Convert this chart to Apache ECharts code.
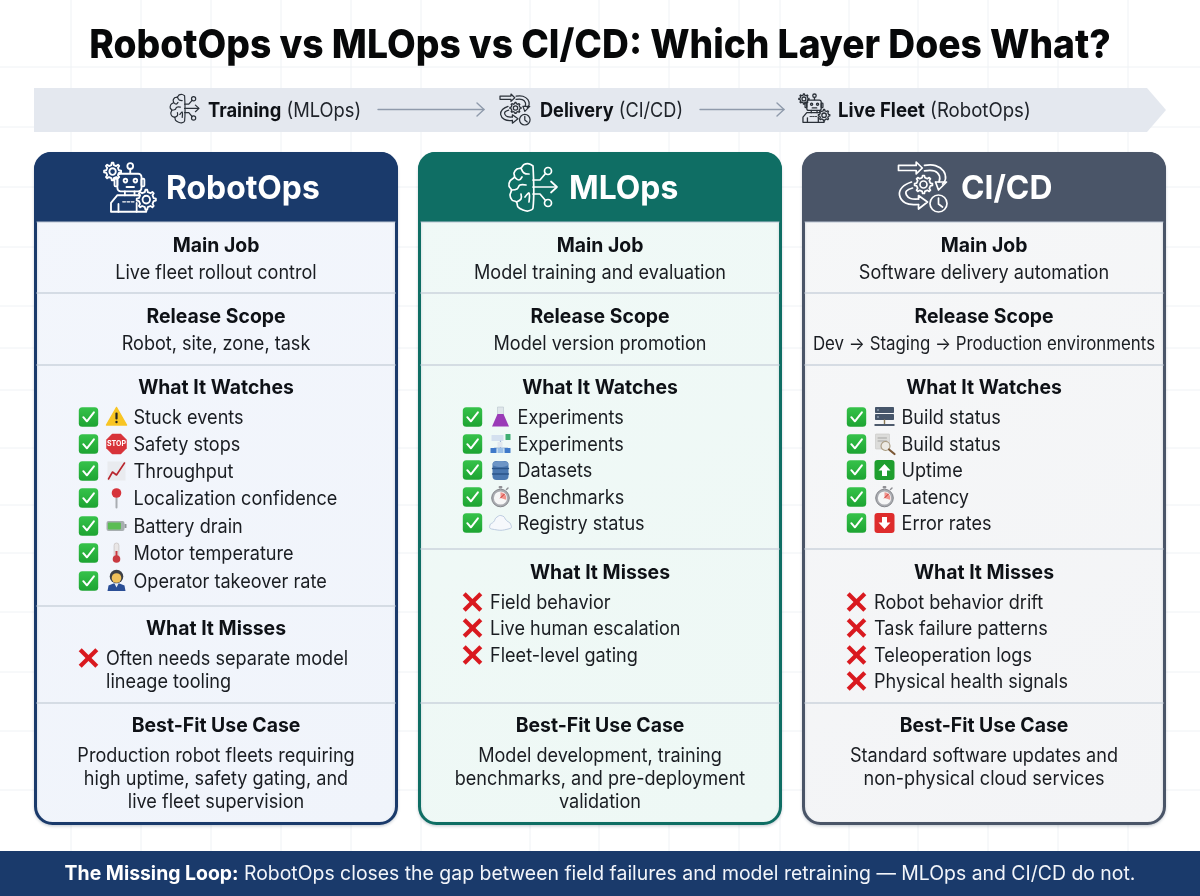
<!DOCTYPE html>
<html><head><meta charset="utf-8">
<style>html,body{margin:0;padding:0;background:#fff}#c{width:1200px;height:896px}</style>
<script src="https://cdn.jsdelivr.net/npm/echarts@6/dist/echarts.min.js"></script>
</head><body><div id="c"></div>
<script>
// ---------- content ----------
const chartTitle = 'RobotOps vs MLOps vs CI/CD: Which Layer Does What?';
const flowBold = ['Training', 'Delivery', 'Live Fleet'];
const flowPlain = ['(MLOps)', '(CI/CD)', '(RobotOps)'];
const panelNames = ['RobotOps', 'MLOps', 'CI/CD'];
const sectionNames = ['Main Job', 'Release Scope', 'What It Watches', 'What It Misses', 'Best-Fit Use Case'];
const mainJobs = ['Live fleet rollout control', 'Model training and evaluation', 'Software delivery automation'];
const releaseScopes = ['Robot, site, zone, task', 'Model version promotion', 'Dev \u2192 Staging \u2192 Production environments'];
const robotWatches = ['Stuck events', 'Safety stops', 'Throughput', 'Localization confidence', 'Battery drain', 'Motor temperature', 'Operator takeover rate'];
const robotWatchIcons = ['warn', 'stop', 'chart', 'pin', 'battery', 'thermo', 'operator'];
const mlWatches = ['Experiments', 'Experiments', 'Datasets', 'Benchmarks', 'Registry status'];
const mlWatchIcons = ['flask', 'pipeline', 'db', 'watch', 'cloud'];
const cicdWatches = ['Build status', 'Build status', 'Uptime', 'Latency', 'Error rates'];
const cicdWatchIcons = ['server', 'lens', 'up', 'watch', 'down'];
const robotMisses = [['Often needs separate model', 'lineage tooling']];
const mlMisses = [['Field behavior'], ['Live human escalation'], ['Fleet-level gating']];
const cicdMisses = [['Robot behavior drift'], ['Task failure patterns'], ['Teleoperation logs'], ['Physical health signals']];
const bestFits = [
  ['Production robot fleets requiring', 'high uptime, safety gating, and', 'live fleet supervision'],
  ['Model development, training', 'benchmarks, and pre-deployment', 'validation'],
  ['Standard software updates and', 'non-physical cloud services']
];
const footerBold = 'The Missing Loop:';
const footerPlain = 'RobotOps closes the gap between field failures and model retraining \u2014 MLOps and CI/CD do not.';

// ---------- layout ----------
const gridX = [71,141,211,281,351,421,530,599,669,739,780,849,918,988,1058,1128];
const gridY = [67,127,187,247,306,348,390,448,505,553,612,672,731,790];
const panelLeft = [34, 418, 802];
const panelW = 364;
const headerIconOrigin = [[96,154.5,1.07,1.1],[507,163,1,1],[898.5,162,1,1]];
const headerTextX = [166, 569, 961];
const headColors = ['#1a3a6b', '#0f6e64', '#4a5568'];
const bodyColors = [['#f3f6fc','#f0f4fb'], ['#f0f9f7','#eef8f5'], ['#f6f7f8','#f3f4f6']];
const watchRowY = [[417,444,471,498,526,553,581],[417,444,470,497,523],[417,444,470,497,523]];
const missHeadY = [628,572,572];
const missRowY = [[658],[602,628,655],[602,628,655,681]];
const dividerY = [[293,365,606,703],[293,365,549,703],[293,365,549,703]];
const listCheckX = [88.5, 472.5, 856.5];
const INK = '#0e1116';
const FONT = 'Inter';
const BODY_SX = 0.928;   // body text is slightly condensed in the reference
const HEAD_SX = 0.97;
const DY = 1;            // baseline nudge for centred text

// ---------- helpers ----------
const els = [];
function T(text, x, y, size, weight, align, color, z, rich, sx) {
  const st = {text, x: 0, y: 0, fontFamily: FONT, fontSize: size, fontWeight: weight || 'normal',
    align: align || 'center', verticalAlign: 'middle', fill: color || INK};
  if (rich) st.rich = rich;
  return {type:'text', x, y: y + DY, scaleX: sx || 1, z: z || 5, style: st};
}
function R(x,y,w,h,r,fill,stroke,lw,z){return {type:'rect',z:z||3,shape:{x,y,width:w,height:h,r:r||0},style:{fill:fill||'none',stroke:stroke||null,lineWidth:lw||0}};}
function Ln(x1,y1,x2,y2,c,lw,z,dash){return {type:'line',z:z||3,shape:{x1,y1,x2,y2},style:{stroke:c,lineWidth:lw,lineCap:'round',lineDash:dash||null}};}
function Pl(pts,c,lw,smooth,z){return {type:'polyline',z:z||3,shape:{points:pts,smooth:smooth||0},style:{stroke:c,lineWidth:lw,fill:null,lineJoin:'round',lineCap:'round'}};}
function Pg(pts,fill,stroke,lw,smooth,z){return {type:'polygon',z:z||3,shape:{points:pts,smooth:smooth||0},style:{fill:fill||'none',stroke:stroke||null,lineWidth:lw||0,lineJoin:'round'}};}
function C(cx,cy,r,fill,stroke,lw,z){return {type:'circle',z:z||3,shape:{cx,cy,r},style:{fill:fill||'none',stroke:stroke||null,lineWidth:lw||0}};}
function G(x,y,sx,sy,children){return {type:'group',x,y,scaleX:sx,scaleY:sy,children};}
function gearPts(cx,cy,R1,R2,n){
  const p=[];
  for(let i=0;i<n;i++){const a=i/n*Math.PI*2,s=Math.PI/n;
    [[-0.5,R2],[-0.25,R1],[0.25,R1],[0.5,R2]].forEach(o=>p.push([cx+o[1]*Math.cos(a+o[0]*s*1.0),cy+o[1]*Math.sin(a+o[0]*s*1.0)]));
  }
  return p;
}
function gear(cx,cy,R1,R2,hole,c,lw,bg){return [Pg(gearPts(cx,cy,R1,R2,8),bg,c,lw,0,6),C(cx,cy,hole,bg,c,lw,6)];}

// ---------- line icons ----------
function robotIcon(c,lw,bg){return [
  ...gear(15.5,15.5,8,6,3,c,lw,bg),
  C(32,10.5,2.7,null,c,lw,5), Ln(32,13,32,17.5,c,lw,5),
  R(20,17.5,22.5,16,3,bg,c,lw,5), R(17.3,22,2.7,7,1,null,c,lw,5), R(42.5,22,2.7,7,1,null,c,lw,5),
  C(27.5,23.7,1.7,null,c,lw,5), C(36.8,23.7,1.7,null,c,lw,5), Ln(28.5,29.5,35.5,29.5,c,lw,5),
  Ln(27,33.5,27,37,c,lw,5), Ln(36,33.5,36,37,c,lw,5),
  Pl([[14,52],[14,44],[20,37],[41,37],[47,42],[47,52],[14,52]],c,lw,0,5),
  Ln(25,43,37,43,c,lw*0.7,5,[2.5,1.5]), Ln(21,45,21,52,c,lw,5), Ln(38,44,38,52,c,lw,5),
  ...gear(47,41,9,7,3.5,c,lw,bg)
];}
function brainIcon(c,lw){return [
  Pl([[26,3],[22,0.8],[17,1.5],[14,5],[10,6],[7,10],[7.5,14],[3,18],[2,23],[4.5,27],[3,32],[5,37],[9.5,39],[11,44],[16,47],[21,48],[26,45],[26,3]],c,lw,0.35,5),
  Pl([[14,5],[17,10],[22,11]],c,lw,0.4,5), Pl([[7.5,14],[12,17],[15,14]],c,lw,0.4,5),
  Pl([[4.5,27],[10,26],[13,22],[19,22]],c,lw,0.4,5), Pl([[9.5,39],[14,36],[14,31]],c,lw,0.4,5),
  Pl([[18,34],[22,30],[22,39]],c,lw,0.4,5),
  Ln(26,24,49,24,c,lw,5), Pl([[44,18.5],[50,24],[44,29.5]],c,lw,0,5),
  Pl([[26,17],[33,17],[38.5,10.5]],c,lw,0,5), C(41,8,3.5,null,c,lw,5),
  Pl([[26,31],[33,31],[38.5,37.5]],c,lw,0,5), C(41,40,3.5,null,c,lw,5)
];}
function flowIcon(c,lw,bg){return [
  Pl([[0,3.4],[17.7,3.4],[17.7,0],[23.8,6],[17.7,11.9],[17.7,8.5],[0,8.5],[0,3.4]],c,lw,0,5),
  Pl([[26,3.4],[37,3.6],[45,9],[47,17],[44,22]],c,lw,0.4,5),
  Pl([[26,8.8],[36,9],[41,14],[40.5,20]],c,lw,0.4,5),
  Pl([[37,20],[48,20],[40,28],[37,20]],c,lw,0,5),
  ...gear(25,22.5,9,7,3.5,c,lw,bg),
  Pl([[13,20],[4,25],[1,33],[7,41],[20,42.5]],c,lw,0.4,5),
  Pl([[14,26],[8,29],[8,33],[12,36.5],[20,37]],c,lw,0.4,5),
  Pl([[20,37],[20,33.5],[29,40],[20,47],[20,42.5]],c,lw,0,5),
  C(40,41.5,8.5,bg,c,lw,6), Pl([[40,36],[40,42],[44,45]],c,lw,0,6)
];}

// ---------- small colour icons, centred on 0,0 ----------
function stopwatch(){return [
  R(-1.8,-11,3.6,2.5,0.8,'#8f8f94'), Ln(6,-7.5,7.5,-9,'#8f8f94',1.5),
  C(0,1,8.8,'#a9abb0','#85878c',1), C(0,1,6.6,'#f6f6f6'),
  {type:'sector',z:3,shape:{cx:0,cy:1,r:5.8,r0:0,startAngle:-Math.PI/2,endAngle:0.3},style:{fill:'#f0958e'}},
  Ln(0,1,4,-3,'#c9302c',1)
];}
const iconMakers = {
  warn:()=>[Pg([[0,-9.5],[10,8],[-10,8]],'#f8c524','#f8c524',1.5), R(-1.1,-4.5,2.2,7,1,'#232323'), C(0,5,1.2,'#232323')],
  stop:()=>[Pg([[-4.3,-10],[4.3,-10],[10,-4.3],[10,4.3],[4.3,10],[-4.3,10],[-10,4.3],[-10,-4.3]],'#d8333a','#d8333a',0.5),
    {type:'text',z:4,style:{text:'STOP',x:0,y:0,align:'center',verticalAlign:'middle',fontFamily:FONT,fontWeight:'bold',fontSize:7,fill:'#fff'}}],
  chart:()=>[R(-9,-9.5,18,19,0,'#e9ebef'), Pl([[-8,8],[-4,1],[0,4],[8,-8]],'#b8242c',1.6)],
  pin:()=>[Ln(0,0,0,9.5,'#a9adb2',2), C(0,-5,4.8,'#d6333b')],
  battery:()=>[R(-10,-5,18,10,2,'#a7aeb0'), R(-8.6,-3.6,13,7.2,1,'#5bbd54'), R(8,-2,2,4,0.5,'#8f9698')],
  thermo:()=>[R(-2.4,-10,4.8,15,2.4,'#e9e6e6','#c9c4c4',0.8), R(-1,-2,2,7,0,'#c93a41'), C(0,6,3.8,'#c93a41')],
  operator:()=>[C(0,-4.5,6.8,'#3c3f46'), C(0,-3,4.8,'#f0c05a'), Pg([[-9,10],[-8,4.5],[-3,2.5],[3,2.5],[8,4.5],[9,10]],'#2a4e96'), Pg([[-2,2.5],[2,2.5],[0,6.5]],'#f2f2f2')],
  flask:()=>[R(-3,-10,6,9,0,'#dfe6ea','#b9c4cc',0.6), Pg([[-3,-3],[3,-3],[8.5,9.5],[-8.5,9.5]],'#9a3bb7')],
  pipeline:()=>[R(-9,-9,12,6,0.5,'#d4e0ef'), R(5,-10,5,6,0.5,'#3fae72'), Ln(0,-3,0,4,'#9db5d4',1.2), Ln(-6,4,7,4,'#9db5d4',1.2), R(-10,4,6,5,0.5,'#3f79c9'), R(-3,4,6,5,0.5,'#9cc0e8'), R(4,4,6,5,0.5,'#3f79c9'), R(-3,-2,5,5,0.5,'#e2e8ef')],
  db:()=>[R(-8,-9,16,19,4,'#4a78b0'), {type:'ellipse',z:4,shape:{cx:0,cy:-6,rx:8,ry:3},style:{fill:'#6c95c6'}}, Ln(-8,-1.5,8,-1.5,'#2b5488',1.3,4), Ln(-8,4,8,4,'#2b5488',1.3,4)],
  watch:stopwatch,
  cloud:()=>[Pg([[-9,6],[-10.5,2],[-7,-1],[-3.5,-6],[2,-7],[6,-2.5],[10,1],[9.5,5.5]],'#f6f8fc','#bccbe0',1,0.6)],
  server:()=>[R(-9.5,-10,19,6,0.7,'#46556a'), R(-9.5,-3,19,6,0.7,'#46556a'), Ln(0,3,0,7,'#8a7a55',1.4), R(-10,7,20,2,0,'#4d5a6c'), C(-6.5,-7,0.7,'#cfe0f0'), C(-6.5,0,0.7,'#cfe0f0')],
  lens:()=>[R(-9,-10,14,15,0.5,'#dcdcda','#c6c6c4',0.6), Ln(-6.5,-6,2,-6,'#a5a5a3',1), Ln(-6.5,-3,2,-3,'#a5a5a3',1), C(1,2,4.5,'#eceae4','#a89a80',1.1), Ln(4.5,5.5,10,10,'#7b5836',2.2)],
  up:()=>[R(-10,-10,20,20,3,'#1f9e2e'), Pg([[0,-6],[6,0.5],[2.5,0.5],[2.5,6],[-2.5,6],[-2.5,0.5],[-6,0.5]],'#fff')],
  down:()=>[R(-10,-10,20,20,3,'#de2c2c'), Pg([[0,6],[6,-0.5],[2.5,-0.5],[2.5,-6],[-2.5,-6],[-2.5,-0.5],[-6,-0.5]],'#fff')]
};
function checkBox(x,y){
  return G(x,y,1,1,[
    {type:'rect',z:3,shape:{x:-9.7,y:-9.7,width:19.4,height:19.4,r:3.5},style:{fill:{type:'linear',x:0,y:0,x2:0,y2:1,colorStops:[{offset:0,color:'#36c24a'},{offset:1,color:'#1da432'}]}}},
    Pl([[-5.2,0.2],[-1.6,4.3],[5.4,-4.6]],'#ffffff',2,0,4)
  ]);
}
function crossMark(x,y){
  const c='#d9191f';
  const mk=(a,b,d,e)=>({type:'line',z:3,shape:{x1:a,y1:b,x2:d,y2:e},style:{stroke:c,lineWidth:4.2,lineCap:'butt'}});
  return G(x,y,1,1,[mk(-8.3,-8.3,8.3,8.3),mk(8.3,-8.3,-8.3,8.3)]);
}

// ---------- page ----------
gridX.forEach(x=>els.push({type:'line',z:0,shape:{x1:x,y1:0,x2:x,y2:851},style:{stroke:'#eff2f5',lineWidth:1}}));
gridY.forEach(y=>els.push({type:'line',z:0,shape:{x1:0,y1:y,x2:1200,y2:y},style:{stroke:'#eff2f5',lineWidth:1}}));

els.push(T(chartTitle,600,45,40,'800','center','#070809',5,null,0.93));

// flow band
els.push(Pg([[34,88],[1147,88],[1166,110],[1147,132],[34,132]],'#e4e8ef'));
const flowTextX = [208,540,838];
const flowScale = [0.916,0.907,0.931];
const BR={fontFamily:FONT,fontSize:20,fontWeight:'bold',fill:INK};
flowBold.forEach((b,i)=>{
  els.push(T('{b|'+b+'} '+flowPlain[i],flowTextX[i],110,20,'normal','left','#20242b',5,{b:BR},flowScale[i]));
});
els.push(G(169,94,0.6,0.6,brainIcon('#2a3038',2)));
els.push(G(500,94,0.62,0.62,flowIcon('#2a3038',2,'#e4e8ef')));
els.push(G(794,89,0.64,0.64,robotIcon('#2a3038',2,'#e4e8ef')));
[[378,484],[700,784]].forEach(a=>{
  els.push(Ln(a[0],109.5,a[1],109.5,'#8f9aab',1.4));
  els.push(Pl([[a[1]-7,103],[a[1],109.5],[a[1]-7,116]],'#8f9aab',1.4));
});

// panels
const allWatches=[robotWatches,mlWatches,cicdWatches], allIcons=[robotWatchIcons,mlWatchIcons,cicdWatchIcons], allMisses=[robotMisses,mlMisses,cicdMisses];
panelNames.forEach((name,i)=>{
  const x=panelLeft[i], cx=x+panelW/2, hc=headColors[i];
  els.push({type:'rect',z:1,shape:{x:x+1.5,y:153.5,width:panelW-3,height:670,r:17},
    style:{fill:{type:'linear',x:0,y:0,x2:1,y2:1,colorStops:[{offset:0,color:bodyColors[i][0]},{offset:1,color:bodyColors[i][1]}]},stroke:hc,lineWidth:3,shadowColor:'rgba(40,60,90,0.18)',shadowBlur:3,shadowOffsetY:1.5}});
  els.push(R(x,152,panelW,70,[17,17,0,0],hc,null,0,2));
  els.push(Ln(x+3,222,x+panelW-3,222,'#bcc6d4',1,3));
  const o=headerIconOrigin[i];
  const kids = i===0?robotIcon('#fff',1.7,hc):i===1?brainIcon('#fff',1.7):flowIcon('#fff',1.7,hc);
  els.push(G(o[0],o[1],o[2],o[3],kids));
  els.push(T(name,headerTextX[i],188.5,33,'bold','left','#ffffff',5,null,0.965));
  dividerY[i].forEach(y=>els.push(Ln(x+3,y,x+panelW-3,y,'#ccd3dd',1.4,3)));
  els.push(T(sectionNames[0],cx,245,20,'bold','center',INK,5,null,HEAD_SX));
  els.push(T(mainJobs[i],cx,272,19.5,'normal','center','#1a1d22',5,null,BODY_SX));
  els.push(T(sectionNames[1],cx,316,20,'bold','center',INK,5,null,HEAD_SX));
  els.push(T(releaseScopes[i],cx,343,i===2?18.5:19.5,'normal','center','#1a1d22',5,null,i===2?0.911:BODY_SX));
  els.push(T(sectionNames[2],cx,387,20,'bold','center',INK,5,null,HEAD_SX));
  allWatches[i].forEach((w,k)=>{
    const y=watchRowY[i][k], bx=listCheckX[i];
    els.push(checkBox(bx,y));
    els.push(G(bx+28,y,1,1,iconMakers[allIcons[i][k]]()));
    els.push(T(w,bx+45,y,19.5,'normal','left','#1a1d22',5,null,BODY_SX));
  });
  els.push(T(sectionNames[3],cx,missHeadY[i],20,'bold','center',INK,5,null,HEAD_SX));
  allMisses[i].forEach((m,k)=>{
    const y=missRowY[i][k], bx=listCheckX[i];
    els.push(crossMark(bx,y));
    m.forEach((line,j)=>els.push(T(line,bx+17.5,y+j*23,19.5,'normal','left','#1a1d22',5,null,BODY_SX)));
  });
  els.push(T(sectionNames[4],cx,725,20,'bold','center',INK,5,null,HEAD_SX));
  bestFits[i].forEach((line,j)=>els.push(T(line,cx,755+j*23,19.5,'normal','center','#1a1d22',5,null,BODY_SX)));
});

// footer
els.push(R(0,851,1200,45,0,'#1a3a6b',null,0,2));
els.push(T('{b|'+footerBold+'} '+footerPlain,600,873.5,19.5,'normal','center','#f2f5fa',5,{b:{fontFamily:FONT,fontSize:19.5,fontWeight:'bold',fill:'#ffffff'}},0.995));

const chart=echarts.init(document.getElementById('c'),null,{renderer:'canvas'});
chart.setOption({backgroundColor:'#ffffff',animation:false,graphic:{elements:els}});
</script></body></html>
